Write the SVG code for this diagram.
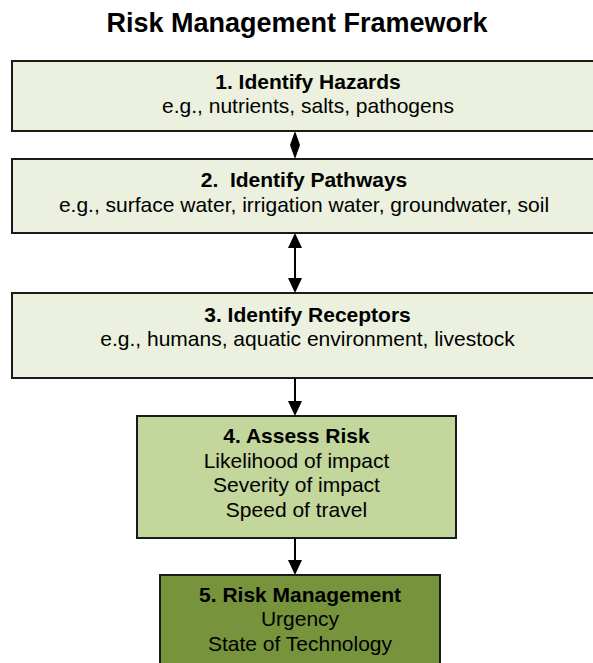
<svg xmlns="http://www.w3.org/2000/svg" width="593" height="663" viewBox="0 0 593 663">
<style>
text{font-family:"Liberation Sans",Arial,sans-serif;font-size:21px;fill:#000;text-anchor:middle;white-space:pre}
.b{font-weight:bold}
.t{font-size:27px;font-weight:bold}
.box{stroke:#1a1a1a;stroke-width:2}
.l{fill:#EBF1DE}
.c{stroke:#000;stroke-width:2;fill:none}
.h{fill:#000}
</style>
<rect width="593" height="663" fill="#fff"/>
<text class="t" x="297" y="32">Risk Management Framework</text>
<g id="n1">
<rect class="box l" x="12" y="61" width="600" height="70"/>
<text class="b" x="308" y="89">1. Identify Hazards</text>
<text x="308" y="113">e.g., nutrients, salts, pathogens</text>
</g>
<g id="n2">
<rect class="box l" x="12" y="159" width="600" height="74"/>
<text class="b" x="304" y="187" xml:space="preserve">2.  Identify Pathways</text>
<text x="304" y="212">e.g., surface water, irrigation water, groundwater, soil</text>
</g>
<g id="n3">
<rect class="box l" x="12" y="293" width="600" height="85"/>
<text class="b" x="307.5" y="322">3. Identify Receptors</text>
<text x="307.5" y="346">e.g., humans, aquatic environment, livestock</text>
</g>
<g id="n4">
<rect class="box" fill="#C3D69B" x="137" y="416" width="319" height="122"/>
<text class="b" x="296.5" y="443">4. Assess Risk</text>
<text x="296.5" y="468">Likelihood of impact</text>
<text x="296.5" y="492">Severity of impact</text>
<text x="296.5" y="517">Speed of travel</text>
</g>
<g id="n5">
<rect class="box" fill="#77933C" x="160" y="575" width="280" height="100"/>
<text class="b" x="300" y="602">5. Risk Management</text>
<text x="300" y="626">Urgency</text>
<text x="300" y="651">State of Technology</text>
</g>
<g id="connectors">
<polygon class="h" points="295,131 290,145 300,145"/>
<polygon class="h" points="295,159 290,145 300,145"/>
<line class="c" x1="295" y1="246" x2="295" y2="280"/>
<polygon class="h" points="295,233 288,248 302,248"/>
<polygon class="h" points="295,293 288,278 302,278"/>
<line class="c" x1="295" y1="378" x2="295" y2="404"/>
<polygon class="h" points="295,416 288,401 302,401"/>
<line class="c" x1="295" y1="538" x2="295" y2="563"/>
<polygon class="h" points="295,575 288,560 302,560"/>
</g>
</svg>
